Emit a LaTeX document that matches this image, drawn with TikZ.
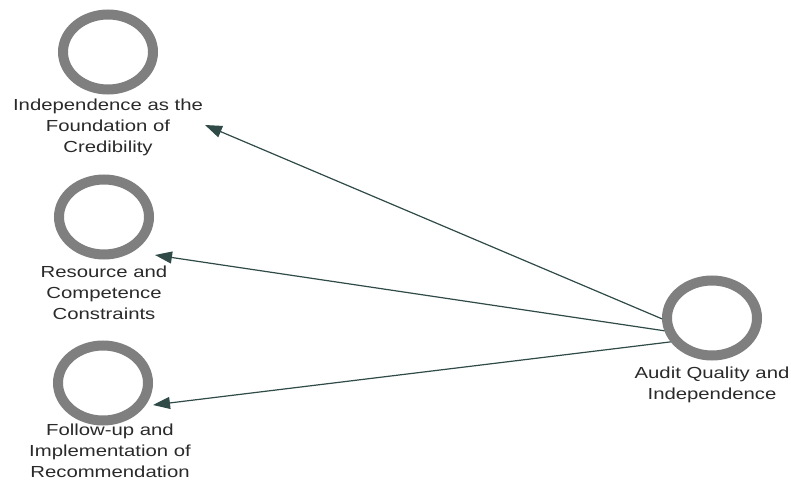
\documentclass[tikz,border=0pt]{standalone}
\usepackage{fontspec}
\setmainfont{Liberation Sans}
\newfontfamily\widesans[FakeStretch=1.27]{Liberation Sans}
\usetikzlibrary{shapes.geometric,arrows.meta}
\definecolor{ringgray}{HTML}{7F7F7F}
\definecolor{arrowcol}{HTML}{2F4A47}
\definecolor{txtcol}{HTML}{2A2A2A}
\tikzset{
  ring/.style={ellipse, draw=ringgray, line width=10pt, minimum width=90pt, minimum height=75pt, inner sep=0pt, outer sep=5pt},
  lbl/.style={align=center, text=txtcol, font=\widesans\fontsize{16}{21}\selectfont, inner sep=0pt},
  arr/.style={draw=arrowcol, line width=1.2pt, -{Triangle[length=17pt,width=12pt]}}
}
\begin{document}
\begin{tikzpicture}[x=1pt,y=-1pt]
\useasboundingbox (0,0) rectangle (791,486);
\fill[white] (0,0) rectangle (791,486);
\node[ring] (c1) at (108,52) {};
\node[ring] (c2) at (104,217) {};
\node[ring] (c3) at (103,383) {};
\node[ring] (c4) at (712,318) {};
\node[lbl] (l1) at (108,127) {Independence as the\\Foundation of\\Credibility};
\node[lbl] (l2) at (104,293) {Resource and\\Competence\\Constraints};
\node[lbl] (l3) at (110,451) {Follow-up and\\Implementation of\\Recommendation};
\node[lbl] (l4) at (712,385) {Audit Quality and\\Independence};
\coordinate (t1) at (205,125);
\coordinate (t2) at (155,255);
\coordinate (t3) at (153,405);
\draw[arr] (c4.181) -- (t1);
\draw[arr] (c4.195) -- (t2);
\draw[arr] (c4.210) -- (t3);
\end{tikzpicture}
\end{document}
